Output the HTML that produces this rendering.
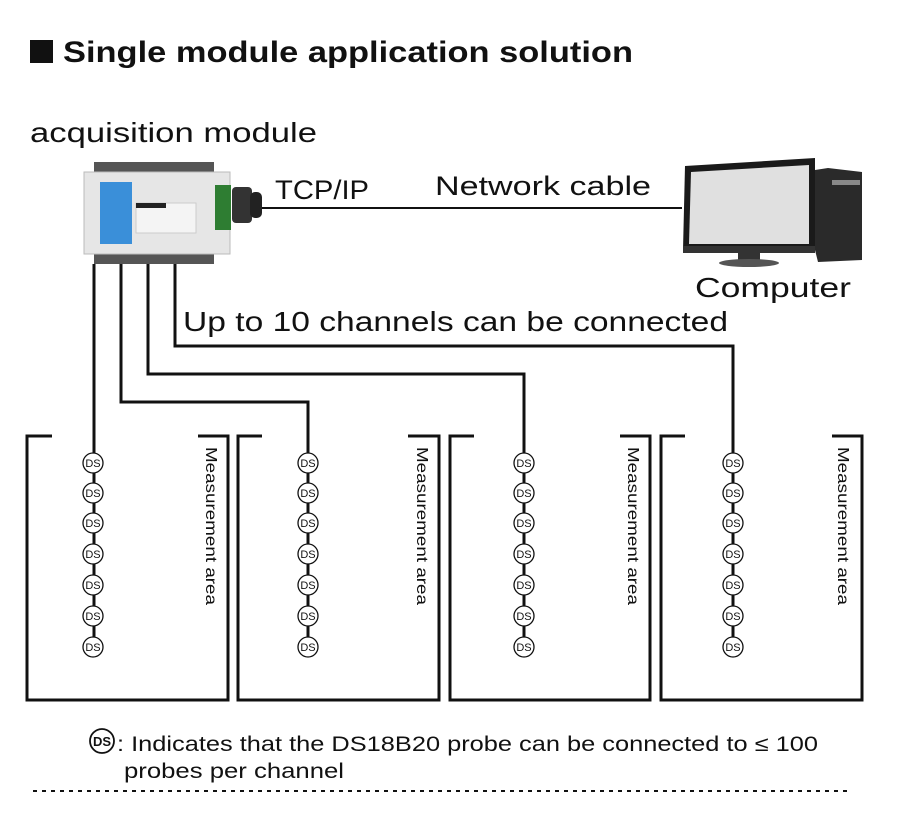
<!DOCTYPE html>
<html><head><meta charset="utf-8"><style>
html,body{margin:0;padding:0;background:#fff;}
svg{display:block;font-family:"Liberation Sans",sans-serif;}
.ds circle{fill:#fff;stroke:#111;stroke-width:1.3}
.ds text{font-size:11px;text-anchor:middle;fill:#111}
.ma{font-size:16px;fill:#111}
</style></head><body>
<svg width="900" height="813" viewBox="0 0 900 813" xmlns="http://www.w3.org/2000/svg">
<rect x="30" y="40" width="23" height="23" fill="#111"/>
<text x="63" y="62" font-size="30" font-weight="bold" fill="#111" textLength="570" lengthAdjust="spacingAndGlyphs">Single module application solution</text>
<text x="30" y="142" font-size="28" fill="#111" textLength="287" lengthAdjust="spacingAndGlyphs">acquisition module</text>

<!-- module -->
<rect x="94" y="162" width="120" height="12" fill="#555"/>
<rect x="94" y="252" width="120" height="12" fill="#555"/>
<rect x="84" y="172" width="146" height="82" fill="#e6e6e6" stroke="#bbb"/>
<rect x="100" y="182" width="32" height="62" fill="#3a8fd9"/>
<rect x="136" y="203" width="60" height="30" fill="#f4f4f4" stroke="#ccc"/>
<rect x="136" y="203" width="30" height="5" fill="#222"/>
<rect x="215" y="185" width="16" height="45" fill="#2e7d32"/>
<rect x="232" y="187" width="20" height="36" rx="4" fill="#333"/>
<rect x="250" y="192" width="12" height="26" rx="5" fill="#222"/>
<line x1="262" y1="208" x2="682" y2="208" stroke="#111" stroke-width="2"/>
<text x="275" y="199" font-size="27" fill="#111" textLength="94" lengthAdjust="spacingAndGlyphs">TCP/IP</text>
<text x="435" y="195" font-size="27" fill="#111" textLength="216" lengthAdjust="spacingAndGlyphs">Network cable</text>

<!-- computer -->
<polygon points="685,166 815,158 815,250 683,250" fill="#1a1a1a"/>
<polygon points="691,172 809,165 809,244 689,244" fill="#e0e0e0"/>
<rect x="683" y="246" width="132" height="7" fill="#333"/>
<rect x="738" y="253" width="22" height="8" fill="#333"/>
<ellipse cx="749" cy="263" rx="30" ry="4" fill="#555"/>
<polygon points="815,170 828,168 862,172 862,260 818,262 815,250" fill="#2a2a2a"/>
<rect x="832" y="180" width="28" height="5" fill="#888"/>
<text x="695" y="297" font-size="28" fill="#111" textLength="156" lengthAdjust="spacingAndGlyphs">Computer</text>

<text x="183" y="331" font-size="28" fill="#111" textLength="545" lengthAdjust="spacingAndGlyphs">Up to 10 channels can be connected</text>

<!-- wires -->
<g fill="none" stroke="#111" stroke-width="3">
<polyline points="94,264 94,655"/>
<polyline points="121,264 121,402 308,402 308,655"/>
<polyline points="148,264 148,374 524,374 524,655"/>
<polyline points="175,264 175,346 733,346 733,655"/>
<polyline points="52,436 27,436 27,700 228,700 228,436 198,436"/>
<polyline points="262,436 238,436 238,700 439,700 439,436 408,436"/>
<polyline points="474,436 450,436 450,700 650,700 650,436 620,436"/>
<polyline points="685,436 661,436 661,700 862,700 862,436 832,436"/>
</g>

<g class="ds">
<circle cx="93" cy="463" r="10"/><text x="93" y="467">DS</text>
<circle cx="93" cy="493" r="10"/><text x="93" y="497">DS</text>
<circle cx="93" cy="523" r="10"/><text x="93" y="527">DS</text>
<circle cx="93" cy="554" r="10"/><text x="93" y="558">DS</text>
<circle cx="93" cy="585" r="10"/><text x="93" y="589">DS</text>
<circle cx="93" cy="616" r="10"/><text x="93" y="620">DS</text>
<circle cx="93" cy="647" r="10"/><text x="93" y="651">DS</text>
<circle cx="308" cy="463" r="10"/><text x="308" y="467">DS</text>
<circle cx="308" cy="493" r="10"/><text x="308" y="497">DS</text>
<circle cx="308" cy="523" r="10"/><text x="308" y="527">DS</text>
<circle cx="308" cy="554" r="10"/><text x="308" y="558">DS</text>
<circle cx="308" cy="585" r="10"/><text x="308" y="589">DS</text>
<circle cx="308" cy="616" r="10"/><text x="308" y="620">DS</text>
<circle cx="308" cy="647" r="10"/><text x="308" y="651">DS</text>
<circle cx="524" cy="463" r="10"/><text x="524" y="467">DS</text>
<circle cx="524" cy="493" r="10"/><text x="524" y="497">DS</text>
<circle cx="524" cy="523" r="10"/><text x="524" y="527">DS</text>
<circle cx="524" cy="554" r="10"/><text x="524" y="558">DS</text>
<circle cx="524" cy="585" r="10"/><text x="524" y="589">DS</text>
<circle cx="524" cy="616" r="10"/><text x="524" y="620">DS</text>
<circle cx="524" cy="647" r="10"/><text x="524" y="651">DS</text>
<circle cx="733" cy="463" r="10"/><text x="733" y="467">DS</text>
<circle cx="733" cy="493" r="10"/><text x="733" y="497">DS</text>
<circle cx="733" cy="523" r="10"/><text x="733" y="527">DS</text>
<circle cx="733" cy="554" r="10"/><text x="733" y="558">DS</text>
<circle cx="733" cy="585" r="10"/><text x="733" y="589">DS</text>
<circle cx="733" cy="616" r="10"/><text x="733" y="620">DS</text>
<circle cx="733" cy="647" r="10"/><text x="733" y="651">DS</text>
<circle cx="102" cy="741" r="12" style="stroke-width:1.8"/><text x="102" y="746" style="font-size:13px;font-weight:bold">DS</text>
</g>

<text class="ma" transform="translate(206,447) rotate(90)" textLength="158" lengthAdjust="spacingAndGlyphs">Measurement area</text>
<text class="ma" transform="translate(417,447) rotate(90)" textLength="158" lengthAdjust="spacingAndGlyphs">Measurement area</text>
<text class="ma" transform="translate(628,447) rotate(90)" textLength="158" lengthAdjust="spacingAndGlyphs">Measurement area</text>
<text class="ma" transform="translate(838,447) rotate(90)" textLength="158" lengthAdjust="spacingAndGlyphs">Measurement area</text>

<text x="117" y="751" font-size="21" fill="#111" textLength="701" lengthAdjust="spacingAndGlyphs">: Indicates that the DS18B20 probe can be connected to ≤ 100</text>
<text x="124" y="778" font-size="21" fill="#111" textLength="220" lengthAdjust="spacingAndGlyphs">probes per channel</text>
<line x1="33" y1="791" x2="852" y2="791" stroke="#111" stroke-width="2" stroke-dasharray="4,5"/>
</svg>
</body></html>
